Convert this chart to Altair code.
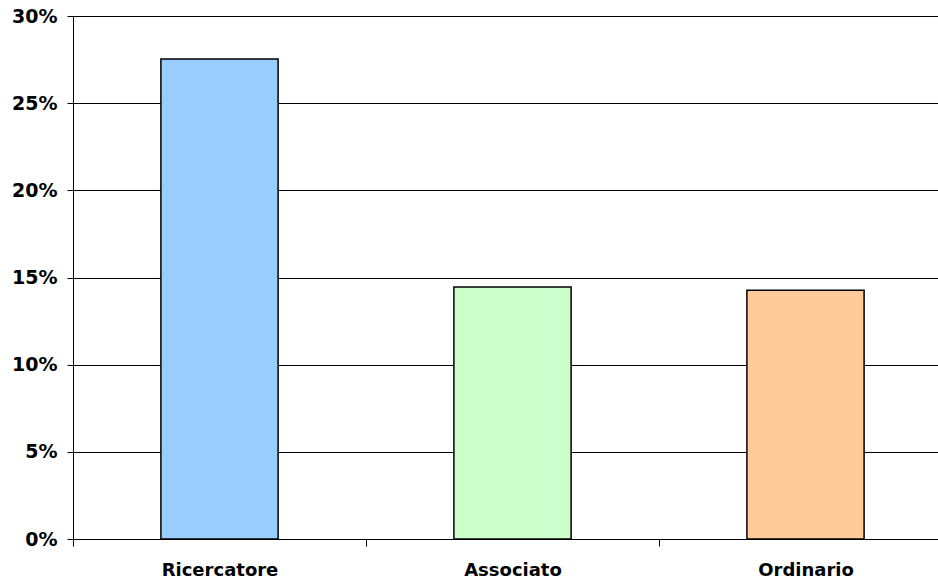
import altair as alt
import pandas as pd

# Share of each academic role
categories = ["Ricercatore", "Associato", "Ordinario"]
shares = [0.2753, 0.1445, 0.1427]
fill_colors = ["#99CCFF", "#CCFFCC", "#FFCC99"]

df = pd.DataFrame({"ruolo": categories, "quota": shares})

FONT = "DejaVu Sans"

bars = alt.Chart(df).mark_bar(
    stroke="black", strokeWidth=1.5, clip=True, width={"band": 0.4}
).encode(
    x=alt.X(
        "ruolo:N",
        sort=categories,
        title=None,
        scale=alt.Scale(range=[0, 879], paddingInner=0, paddingOuter=0),
        axis=alt.Axis(
            labelAngle=0,
            labelFont=FONT,
            labelFontSize=18,
            labelFontWeight="bold",
            labelColor="black",
            labelPadding=15,
            tickBand="extent",
            tickSize=7,
            tickColor="black",
            domainColor="black",
            grid=False,
        ),
    ),
    y=alt.Y(
        "quota:Q",
        title=None,
        scale=alt.Scale(domain=[0, 0.3], nice=False),
        axis=alt.Axis(
            format=".0%",
            values=[0, 0.05, 0.1, 0.15, 0.2, 0.25, 0.3],
            labelFont=FONT,
            labelFontSize=19,
            labelFontWeight="bold",
            labelColor="black",
            labelPadding=10,
            tickSize=6,
            tickColor="black",
            domainColor="black",
            grid=True,
            gridColor="black",
            gridWidth=1,
        ),
    ),
    color=alt.Color("ruolo:N", scale=alt.Scale(domain=categories, range=fill_colors), legend=None),
)

chart = bars.properties(
    width=865,
    height=523,
    autosize=alt.AutoSizeParams(type="none"),
    padding={"left": 73, "top": 16, "right": 0, "bottom": 43},
).configure_view(stroke=None).configure(background="white")

chart.save("out.html", embed_options={"renderer": "svg", "actions": False})
